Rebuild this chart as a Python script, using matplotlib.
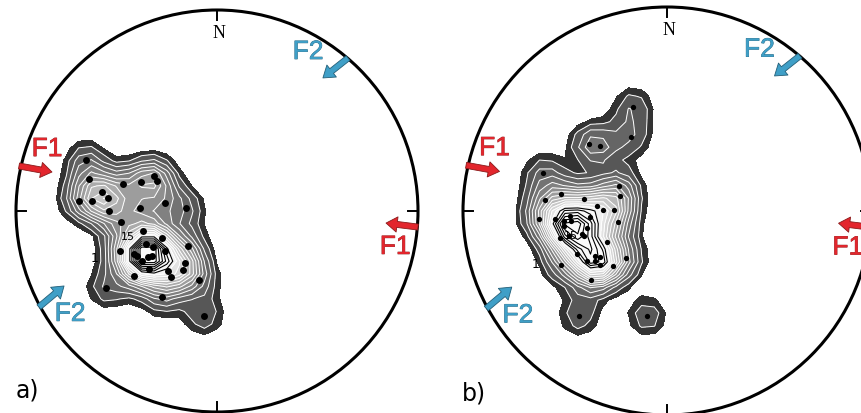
import numpy as np
import matplotlib.pyplot as plt
import matplotlib.patheffects as pe
from matplotlib.patches import Circle, FancyArrowPatch

# poles, unit-circle stereonet coordinates (x east, y north)
a_x = [-0.652, -0.637, -0.687, -0.622, -0.572, -0.542, -0.537, -0.468, -0.378, -0.313,
       -0.299, -0.259, -0.383, -0.154, -0.478, -0.368, -0.274, -0.144, -0.483, -0.413,
       -0.353, -0.318, -0.259, -0.373, -0.343, -0.323, -0.338, -0.244, -0.229, -0.413,
       -0.159, -0.169, -0.090, -0.552, -0.274, -0.065, -0.398]
a_y = [0.254, 0.159, 0.050, 0.050, 0.095, 0.065, 0.000, 0.134, 0.144, 0.174,
       0.149, 0.040, 0.015, 0.015, -0.055, -0.100, -0.134, -0.174, -0.199, -0.214,
       -0.164, -0.179, -0.199, -0.249, -0.229, -0.224, -0.289, -0.299, -0.328, -0.323,
       -0.259, -0.294, -0.343, -0.383, -0.428, -0.522, -0.224]

b_x = [-0.167, -0.176, -0.382, -0.328, -0.608, -0.235, -0.520, -0.230, -0.598, -0.407,
       -0.343, -0.314, -0.260, -0.627, -0.549, -0.505, -0.475, -0.471, -0.377, -0.392,
       -0.240, -0.525, -0.417, -0.294, -0.441, -0.353, -0.328, -0.392, -0.328, -0.265,
       -0.201, -0.520, -0.373, -0.431, -0.098, -0.505, -0.480, -0.407, -0.353]
b_y = [0.510, 0.363, 0.328, 0.319, 0.186, 0.123, 0.083, 0.074, 0.054, 0.059,
       0.025, 0.005, 0.005, -0.039, -0.039, -0.049, -0.025, -0.049, -0.029, -0.083,
       -0.054, -0.132, -0.113, -0.152, -0.211, -0.221, -0.225, -0.245, -0.265, -0.270,
       -0.230, -0.265, -0.338, -0.515, -0.515, -0.074, -0.122, -0.122, -0.245]

N_LINES = 18   # contour lines per diagram
N_WHITE = 12   # lowest contour lines drawn white, the rest black
RED, RED_EDGE = "#e3262d", "#8a1a1a"
BLUE, BLUE_EDGE = "#3f9fc7", "#245f78"


def density(xs, ys, gx, gy, sigma=0.07):
    xs, ys = np.asarray(xs), np.asarray(ys)
    d2 = (gx[..., None] - xs) ** 2 + (gy[..., None] - ys) ** 2
    return np.exp(-d2 / (2 * sigma ** 2)).sum(-1)


def stereonet(ax, xs, ys, label, ms, lab1, lab15):
    g = np.arange(-1, 1.0001, 0.0625)
    gx, gy = np.meshgrid(g, g)
    d = density(xs, ys, gx, gy)
    d[gx ** 2 + gy ** 2 > 1] = 0

    lines = list(np.linspace(0.68, 0.96 * d.max(), N_LINES))
    levels = [0.42] + lines
    fills = ["#333333"]
    for k in range(1, len(levels) - 1):
        v = min(0.34 + 0.055 * (k - 1), 0.98)
        fills.append((v, v, v))
    ax.contourf(gx, gy, d, levels=levels, colors=fills, extend="max")
    ax.contour(gx, gy, d, levels=lines[:N_WHITE], colors="white", linewidths=0.7)
    ax.contour(gx, gy, d, levels=lines[N_WHITE:], colors="black", linewidths=0.8)
    ax.plot(xs, ys, "o", color="black", ms=ms, mec="none")

    ax.add_patch(Circle((0, 0), 1, fill=False, lw=2.2, ec="black", clip_on=False))
    for ang in [0, 90, 180, 270]:
        c, s = np.cos(np.radians(ang)), np.sin(np.radians(ang))
        ax.plot([c, 0.95 * c], [s, 0.95 * s], color="black", lw=1.4, clip_on=False)
    ax.text(0.01, 0.89, "N", family="Liberation Serif", fontsize=13,
            ha="center", va="center")
    ax.text(lab1[0], lab1[1], "1", fontsize=9, ha="center", va="center")
    ax.text(lab15[0], lab15[1], "15", fontsize=8, ha="center", va="center")
    ax.text(-0.945, -0.89, label, fontsize=17, ha="center", va="center")

    arrows = [((-0.985, 0.224), (-0.821, 0.194), RED, RED_EDGE),
              ((1.0, -0.08), (0.841, -0.06), RED, RED_EDGE),
              ((0.652, 0.761), (0.527, 0.662), BLUE, BLUE_EDGE),
              ((-0.886, -0.478), (-0.761, -0.373), BLUE, BLUE_EDGE)]
    for tail, tip, fc, ec in arrows:
        ax.add_patch(FancyArrowPatch(tail, tip, arrowstyle="simple,head_length=8,head_width=11,tail_width=4.3",
                                     fc=fc, ec=ec, lw=0.6, clip_on=False, shrinkA=0, shrinkB=0))
    texts = [(-0.846, 0.308, "F1", RED, RED_EDGE), (0.886, -0.179, "F1", RED, RED_EDGE),
             (0.453, 0.791, "F2", BLUE, BLUE_EDGE), (-0.731, -0.512, "F2", BLUE, BLUE_EDGE)]
    for x, y, t, fc, ec in texts:
        ax.text(x, y, t, fontsize=19, color=fc, family="Liberation Sans", ha="center", va="center",
                path_effects=[pe.withStroke(linewidth=0.5, foreground=ec)])

    ax.set_xlim(-1, 1)
    ax.set_ylim(-1, 1)
    ax.axis("off")


fig = plt.figure(figsize=(8.62, 4.14), dpi=100)
W, H = 862, 414
ax_a = fig.add_axes([16 / W, 1 / H, 402 / W, 402 / H])
ax_b = fig.add_axes([463 / W, -2 / H, 408 / W, 408 / H])

stereonet(ax_a, a_x, a_y, "a)", 5.0, (-0.607, -0.229), (-0.443, -0.124))
stereonet(ax_b, b_x, b_y, "b)", 3.8, (-0.642, -0.255), (-0.47, -0.118))

fig.savefig("out.png", dpi=100)
